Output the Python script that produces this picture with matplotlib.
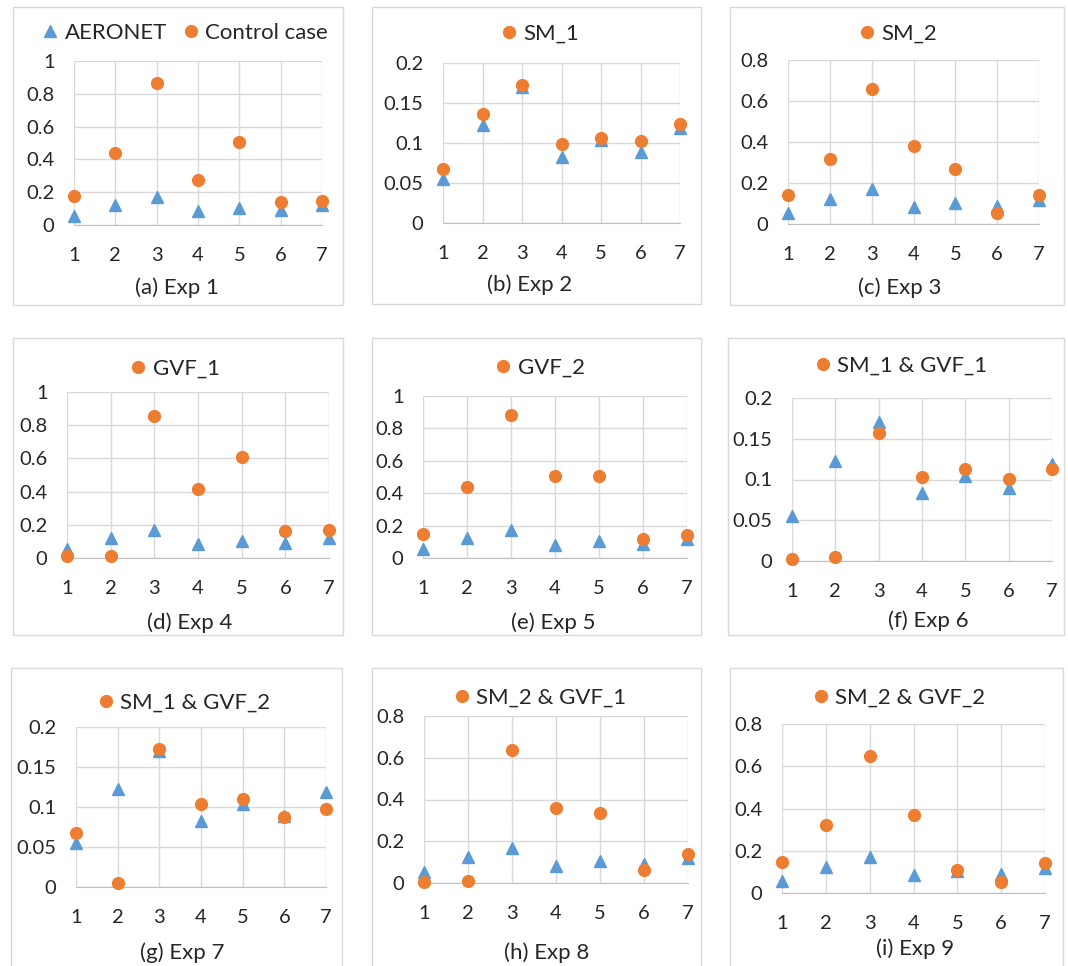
import matplotlib
matplotlib.use("Agg")
import matplotlib.pyplot as plt
from matplotlib.lines import Line2D
from matplotlib.patches import Rectangle

plt.rcParams['font.family'] = ['Lato', 'DejaVu Sans']

W, H = 1068, 966
BLUE = '#5B9BD5'
ORANGE = '#ED7D31'
GRID = '#D9D9D9'

sites = [1, 2, 3, 4, 5, 6, 7]
aeronet = [0.055, 0.123, 0.170, 0.083, 0.104, 0.089, 0.119]

control = [0.175, 0.44, 0.865, 0.275, 0.505, 0.14, 0.148]
sm_1 = [0.067, 0.136, 0.172, 0.099, 0.106, 0.103, 0.124]
sm_2 = [0.14, 0.315, 0.66, 0.38, 0.27, 0.055, 0.14]
gvf_1 = [0.012, 0.012, 0.855, 0.415, 0.61, 0.16, 0.17]
gvf_2 = [0.15, 0.44, 0.88, 0.505, 0.505, 0.12, 0.145]
sm1_gvf1 = [0.003, 0.005, 0.157, 0.103, 0.113, 0.101, 0.113]
sm1_gvf2 = [0.067, 0.005, 0.173, 0.104, 0.110, 0.088, 0.097]
sm2_gvf1 = [0.003, 0.008, 0.635, 0.36, 0.335, 0.06, 0.14]
sm2_gvf2 = [0.145, 0.32, 0.65, 0.37, 0.11, 0.05, 0.14]

names = ['Control case', 'SM_1', 'SM_2', 'GVF_1', 'GVF_2',
         'SM_1 & GVF_1', 'SM_1 & GVF_2', 'SM_2 & GVF_1', 'SM_2 & GVF_2']
runs = [control, sm_1, sm_2, gvf_1, gvf_2, sm1_gvf1, sm1_gvf2, sm2_gvf1, sm2_gvf2]
captions = ['(a) Exp 1', '(b) Exp 2', '(c) Exp 3', '(d) Exp 4', '(e) Exp 5',
            '(f) Exp 6', '(g) Exp 7', '(h) Exp 8', '(i) Exp 9']
ymax = [1, 0.2, 0.8, 1, 1, 0.2, 0.2, 0.8, 0.8]
ystep = [0.2, 0.05, 0.2, 0.2, 0.2, 0.05, 0.05, 0.2, 0.2]

# layout in pixels: frame box, plot area, legend centre, caption centre
frames = [(13, 7, 343, 305), (372, 7, 701, 304), (730, 7, 1064, 305),
          (13, 338, 343, 635), (372, 338, 701, 635), (728, 338, 1064, 635),
          (11, 668, 342, 990), (372, 668, 701, 990), (730, 668, 1063, 990)]
areas = [(74, 61, 322, 225), (443, 63, 680, 223), (788, 60, 1039, 224),
         (67, 392, 329, 558), (423, 396, 687, 558), (792, 398, 1052, 561),
         (76, 727, 326, 887), (424, 716, 688, 883), (782, 724, 1045, 893)]
legpos = [(183, 33), (538, 34), (896, 34), (173, 369), (538, 368),
          (899, 366), (182, 703), (538, 698), (897, 698)]
cappos = [(177, 288), (530, 285), (900, 288), (190, 623), (553, 623),
          (928, 621), (182, 953), (547, 953), (915, 949)]

fig = plt.figure(figsize=(W / 100, H / 100), dpi=100)

for i in range(9):
    x0, y0, x1, y1 = frames[i]
    fig.patches.append(Rectangle((x0 / W, 1 - y1 / H), (x1 - x0) / W, (y1 - y0) / H,
                                 transform=fig.transFigure, fill=False,
                                 edgecolor=GRID, linewidth=1.0))

    l, t, r, b = areas[i]
    ax = fig.add_axes([l / W, 1 - b / H, (r - l) / W, (b - t) / H])
    ax.plot(sites, aeronet, '^', color=BLUE, markersize=8, clip_on=False, zorder=3)
    ax.plot(sites, runs[i], 'o', color=ORANGE, markersize=8.5, clip_on=False, zorder=4)

    ax.set_xlim(1, 7)
    ax.set_ylim(0, ymax[i])
    n = int(round(ymax[i] / ystep[i]))
    yt = [k * ystep[i] for k in range(n + 1)]
    ax.set_yticks(yt)
    ax.set_yticklabels(['%g' % round(v, 2) for v in yt])
    ax.set_xticks(sites)
    ax.grid(True, color=GRID, linewidth=1.0)
    ax.set_axisbelow(True)
    for s in ['top', 'right', 'left']:
        ax.spines[s].set_visible(False)
    ax.spines['bottom'].set_color('#BFBFBF')
    ax.tick_params(length=0, labelsize=14.5, colors='#262626')
    ax.tick_params(axis='x', pad=16)
    ax.tick_params(axis='y', pad=14)

    handles = [Line2D([], [], marker='o', linestyle='', color=ORANGE, markersize=8.5)]
    labels = [names[i]]
    if i == 0:
        handles.insert(0, Line2D([], [], marker='^', linestyle='', color=BLUE, markersize=8))
        labels.insert(0, 'AERONET')
    lx, ly = legpos[i]
    fig.legend(handles, labels, loc='center', bbox_to_anchor=(lx / W, 1 - ly / H),
               ncol=len(handles), frameon=False, fontsize=16,
               handletextpad=0.1, columnspacing=0.5, handlelength=1.1,
               labelcolor='#262626')

    cx, cy = cappos[i]
    fig.text(cx / W, 1 - cy / H, captions[i], ha='center', va='center',
             fontsize=16, color='#262626')

fig.savefig('out.png', dpi=100)
plt.close(fig)
